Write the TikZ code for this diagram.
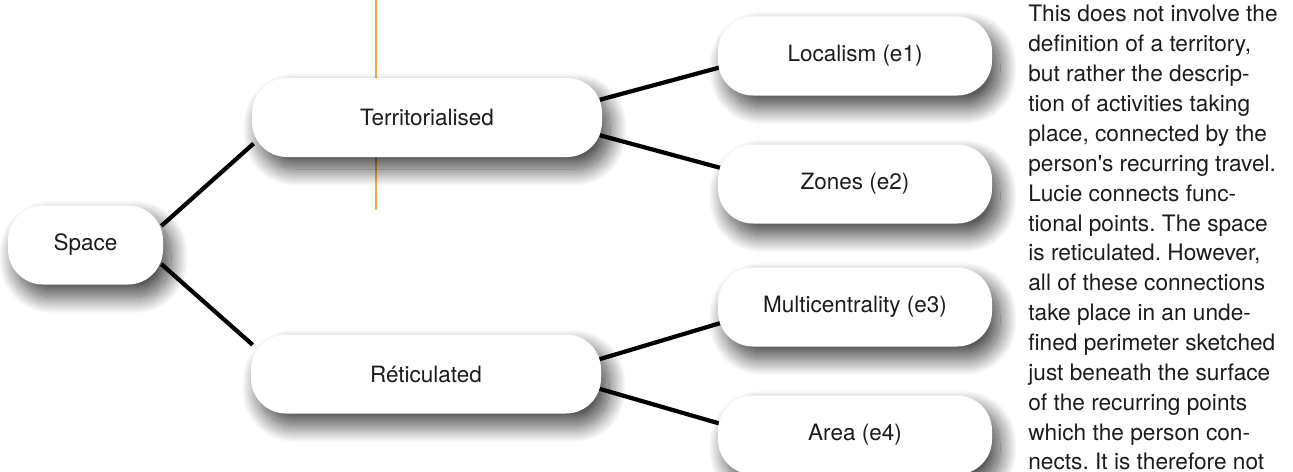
\documentclass[tikz,border=0pt]{standalone}
\usepackage{fontspec}
\setmainfont{TeX Gyre Heros}
\usepackage{xcolor}
\usepackage{tikz}
\usetikzlibrary{positioning,calc,backgrounds,shadows.blur}
\definecolor{guide}{RGB}{245,172,62}
\definecolor{inkgray}{RGB}{28,28,28}
\frenchspacing

\begin{document}
\begin{tikzpicture}[
    bubble/.style={fill=white, rounded corners=0.7cm, minimum height=1.58cm, inner sep=0pt,
        text=inkgray, font=\fontsize{12.8}{15}\selectfont,
        blur shadow={shadow xshift=0.16cm, shadow yshift=-0.24cm, shadow blur radius=0.34cm,
            shadow blur steps=40, shadow opacity=75}},
    link/.style={line width=2.4pt, black, shorten <=-1.5pt, shorten >=-1.5pt}
]
    \useasboundingbox (0,0) rectangle (25.86,-9.44);

    % Guide line
    \draw[guide, line width=0.8pt] (7.52,0) -- (7.52,-4.2);

    % Tree
    \node[bubble, minimum width=3.1cm] (space) at (1.71,-4.90) {Space};
    \node[bubble, minimum width=7.0cm] (terr) at (8.54,-2.35) {Territorialised};
    \node[bubble, minimum width=7.0cm] (reti) at (8.52,-7.48) {Réticulated};
    \node[bubble, minimum width=5.48cm] (e1) at (17.10,-1.12) {Localism (e1)};
    \node[bubble, minimum width=5.48cm] (e2) at (17.10,-3.68) {Zones (e2)};
    \node[bubble, minimum width=5.48cm] (e3) at (17.10,-6.14) {Multicentrality (e3)};
    \node[bubble, minimum width=5.48cm] (e4) at (17.10,-8.70) {Area (e4)};

    % Branches
    \begin{scope}[on background layer]
        \draw[link] (space.15) -- (terr.189);
        \draw[link] (space.345) -- (reti.170);
        \draw[link] (terr.6) -- (e1.185);
        \draw[link] (terr.354) -- (e2.173);
        \draw[link] (reti.5) -- (e3.187);
        \draw[link] (reti.355) -- (e4.175);
    \end{scope}

    % Side text
    \node[anchor=north west, inner sep=0pt, align=left, text=inkgray,
        font=\fontsize{12.9}{17.0}\selectfont] (note) at (20.56,-0.1)
        {This does not involve the\\
        definition of a territory,\\
        but rather the descrip-\\
        tion of activities taking\\
        place, connected by the\\
        person\textquotesingle s recurring travel.\\
        Lucie connects func-\\
        tional points. The space\\
        is reticulated. However,\\
        all of these connections\\
        take place in an unde-\\
        fined perimeter sketched\\
        just beneath the surface\\
        of the recurring points\\
        which the person con-\\
        nects. It is therefore not};
\end{tikzpicture}
\end{document}
